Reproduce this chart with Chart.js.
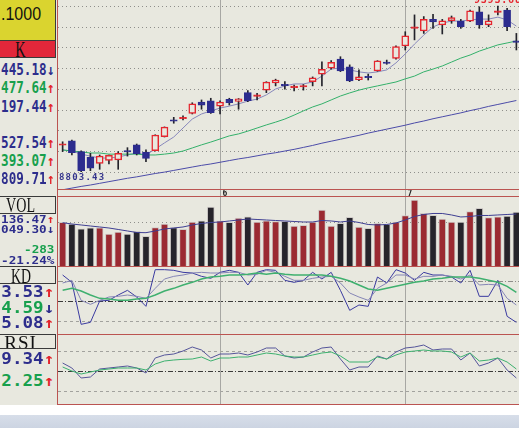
<!DOCTYPE html>
<html>
<head>
<meta charset="utf-8">
<script src="https://cdn.jsdelivr.net/npm/chart.js@4/dist/chart.umd.min.js"></script>
<style>
html, body { margin: 0; padding: 0; width: 519px; height: 428px; overflow: hidden; background: #ffffff; }
#stage { position: absolute; left: 0; top: 0; width: 519px; height: 405px; background: #e8e8df; overflow: hidden; }
canvas { position: absolute; left: 58px; }
.ln { position: absolute; background: #bb5451; }
.box { position: absolute; left: -15px; width: 69px; border: 1px solid #3a3a3a; text-align: center; font-family: "Liberation Serif", serif; color: #111; overflow: hidden; }
.box span { display: inline-block; }
#lp { position: absolute; left: 0; top: 0; width: 55px; height: 405px; }
.val { position: absolute; right: 1px; white-space: nowrap; font-family: "DejaVu Sans Mono", monospace; font-weight: bold; line-height: 1; transform-origin: right center; }
.nv { color: #2d2d8c; } .gn { color: #17a04d; } .ar { color: #e3242b; } .ab { color: #2d2d8c; }
.s15 { font-size: 15px; transform: scaleX(0.84); }
.s11 { font-size: 11px; transform: scaleX(1.15); }
.k15 { font-size: 15px; transform: scaleX(1.17); }
#band { position: absolute; left: 0; top: 415px; width: 519px; height: 13px; background: linear-gradient(#d7dee9, #ccd4e2); }
</style>
</head>
<body>
<div id="stage">
  <canvas id="price" width="463" height="197" style="top:0px"></canvas>
  <canvas id="vol" width="463" height="69" style="top:197px"></canvas>
  <canvas id="kd" width="463" height="67" style="top:267px"></canvas>
  <canvas id="rsi" width="463" height="69" style="top:335px"></canvas>

  <div class="ln" style="left:57px;top:0;width:1px;height:405px"></div>
  <div class="ln" style="left:57px;top:189px;width:462px;height:1px"></div>
  <div class="ln" style="left:57px;top:196px;width:462px;height:1px"></div>
  <div class="ln" style="left:57px;top:266px;width:462px;height:1px"></div>
  <div class="ln" style="left:57px;top:334px;width:462px;height:1px"></div>
  <div class="ln" style="left:57px;top:404px;width:462px;height:1px"></div>

  <div id="lp">
    <div class="box" style="top:-2px;height:41px;background:#dad42f"></div>
    <div style="position:absolute;left:1px;top:5px;font-family:'Liberation Sans',sans-serif;font-size:16px;line-height:16px;color:#111;transform:scaleY(1.17);transform-origin:left top">.1000</div>
    <div class="box" style="top:40px;height:16px;line-height:18px;background:#e2273a;font-size:23px"><span style="transform:scaleX(0.62)">K</span></div>

    <div class="val s15 nv" style="top:63px">445.18<span class="ab">↓</span></div>
    <div class="val s15 gn" style="top:81px">477.64<span class="ar">↑</span></div>
    <div class="val s15 nv" style="top:100px">197.44<span class="ar">↑</span></div>
    <div class="val s15 nv" style="top:136px">527.54<span class="ar">↑</span></div>
    <div class="val s15 gn" style="top:154px">393.07<span class="ar">↑</span></div>
    <div class="val s15 nv" style="top:172px">809.71<span class="ar">↑</span></div>

    <div class="box" style="top:196px;height:16px;line-height:17px;font-size:21px"><span style="transform:scaleX(0.67)">VOL</span></div>
    <div class="val s11 nv" style="top:214px">136.47<span class="ar">↑</span></div>
    <div class="val s11 nv" style="top:224px">049.30<span class="ab">↓</span></div>
    <div class="val s11 gn" style="top:244px">-283</div>
    <div class="val s11 nv" style="top:255px">-21.24%</div>

    <div class="box" style="top:266px;height:16px;line-height:17px;font-size:22px"><span style="transform:scaleX(0.63)">KD</span></div>
    <div class="val k15 nv" style="top:285px">3.53<span class="ar">↑</span></div>
    <div class="val k15 gn" style="top:301px">4.59<span class="ab">↓</span></div>
    <div class="val k15 nv" style="top:316px">5.08<span class="ar">↑</span></div>

    <div class="box" style="top:334px;height:13px;line-height:15px;font-size:19px;letter-spacing:1px">RSI</div>
    <div class="val k15 nv" style="top:352px">9.34<span class="ar">↑</span></div>
    <div class="val k15 gn" style="top:374px">2.25<span class="ar">↑</span></div>
  </div>
</div>
<div id="band"></div>

<script>
// month of every trading day (one entry per candle)
var months = ['5','5','5','5','5','5','5','5','5','5','5','5','5','5','5','5','5',
    '6','6','6','6','6','6','6','6','6','6','6','6','6','6','6','6','6','6','6','6',
    '7','7','7','7','7','7','7','7','7','7','7','7','7'];

var open = [8898,8913,8875,8855,8833,8844,8845,8879,8899,8873,
    8878,8928,8988,8992,9011,9051,9056,9037,9061,9054,
    9085,9072,9094,9120,9115,9103,9105,9124,9151,9172,
    9205,9177,9131,9143,9162,9194,9207,9251,9314,9305,
    9346,9326,9341,9340,9340,9373,9326,9371,9379,9270];
var high = [8910,8916,8878,8869,8863,8863,8875,8889,8902,8881,
    8935,8963,8997,9002,9049,9059,9065,9056,9065,9064,
    9092,9083,9124,9133,9124,9112,9114,9141,9195,9199,
    9213,9184,9166,9151,9199,9201,9252,9302,9362,9356,
    9364,9346,9358,9346,9379,9391,9362,9393.68,9385,9296];
var low = [8875,8863,8803.43,8807,8812,8831,8812,8859,8863,8839,
    8877,8927,8976,8988,9009,9026,9011,9009,9041,9026,
    9053,9059,9085,9109,9097,9091,9094,9109,9109,9169,
    9160,9124,9128,9130,9161,9186,9204,9237,9273,9296,
    9314,9294,9332,9314,9338,9314,9320,9362,9306,9237];
var close = [8903,8871,8807,8816,8859,8862,8869,8874,8868,8851,
    8934,8962,8983,8997,9045,9040,9014,9051,9049,9063,
    9056,9077,9123,9130,9110,9108,9110,9138,9168,9193,
    9162,9127,9141,9138,9198,9189,9249,9287,9319,9346,
    9337,9341,9352,9320,9376,9326,9341,9376,9320,9264];

var ma5 = [8881,8877,8866,8859,8852,8852,8856,8863,8870,8863,
    8884,8906,8927,8959,8991,9009,9020,9030,9037,9045,
    9055,9062,9077,9098,9109,9116,9116,9123,9144,9169,
    9173,9166,9159,9155,9159,9166,9191,9223,9258,9290,
    9319,9333,9340,9340,9344,9347,9347,9354,9344,9322];
var ma20 = [8881,8877,8874,8870,8870,8866,8866,8866,8866,8863,
    8863,8866,8870,8877,8888,8899,8909,8920,8931,8938,
    8948,8959,8970,8980,8991,9005,9020,9034,9045,9059,
    9073,9084,9094,9102,9109,9116,9123,9134,9144,9159,
    9169,9180,9194,9208,9219,9233,9244,9255,9262,9269];
var ma60 = [8739,8745,8751,8756,8762,8768,8774,8780,8785,8791,
    8797,8802,8808,8814,8820,8826,8831,8837,8843,8849,
    8854,8860,8866,8871,8877,8883,8890,8897,8905,8912,
    8919,8926,8933,8941,8948,8955,8962,8969,8977,8984,
    8992,8999,9006,9013,9021,9028,9036,9043,9050,9057];
var priceGrid = [8803.43,8877.21,8950.99,9024.78,9098.56,9172.34,9246.12,9319.90,9393.68];

var vol = [1200,1150,1020,1050,1050,880,935,880,955,815,
    1055,1155,1055,1010,1210,1240,1620,1245,1200,1320,
    1355,1210,1245,1220,1230,1100,1120,1210,1540,1100,
    1175,1340,1070,1035,1175,1145,1210,1385,1815,1450,
    1395,1290,1210,1210,1495,1585,1330,1355,1375,1485];
var volMa = [1190,1155,1128,1100,1073,1045,1004,963,921,916,
    963,1018,1045,1073,1128,1169,1196,1210,1238,1265,
    1293,1279,1265,1251,1238,1224,1210,1210,1251,1238,
    1210,1238,1196,1141,1128,1141,1183,1265,1361,1416,
    1444,1444,1403,1348,1361,1389,1389,1403,1416,1430];

var kdK = [89,78,15,18,50,51,59,66,56,42,
    97,97,96,93,92,87,84,93,96,93,
    74,93,97,96,81,78,81,93,83,93,
    66,36,44,42,86,77,97,92,81,93,
    89,89,86,77,96,57,57,81,27,18];
var kdD = [77,81,51,45,51,56,57,59,57,54,
    69,83,87,89,92,93,92,92,93,93,
    89,90,96,93,87,81,81,84,86,87,
    77,62,56,51,69,77,89,89,83,87,
    87,89,87,83,89,74,75,74,54,44];
var kdJ = [66,69,65,59,54,53,51,51,53,54,
    59,65,69,74,78,83,86,87,89,89,
    90,92,90,92,90,89,89,89,89,87,
    84,80,74,68,66,69,72,75,78,80,
    83,84,86,86,86,84,81,78,72,63];

var rsi6 = [61.5,54,39,40.5,52.5,54,55.5,57,54,46.5,
    69,73.5,75,79.5,85.5,81,69,75,75,76.5,
    73.5,78,84,84,72,69,70.5,78,84,85.5,
    67.5,51,55.5,55.5,72,67.5,78,84,85.5,88.5,
    81,82.5,82.5,66,76.5,57,61.5,69,51,39];
var rsi12 = [55.5,49.5,45,48,51,52.5,54,54,54,51,
    60,64.5,66,67,67.5,70.5,64.5,69,69,70.5,
    70.5,73.5,76.5,75,72,70.5,70.5,73.5,76.5,78,
    72,63,63,63,70.5,67.5,73.5,78,79.5,81,
    79.5,79.5,78,70.5,76.5,64.5,66,69,63,52.5];

var RED = '#e5262f', NAVY = '#2c2c8e', BG = '#e8e8df';

var monthStarts = [];
months.forEach(function (m, i) { if (i > 0 && m !== months[i - 1]) monthStarts.push(i); });

var up = open.map(function (o, i) { return close[i] >= o; });
var doji = open.map(function (o, i) { return Math.abs(close[i] - o) <= 6; });
var bodies = open.map(function (o, i) { return [Math.min(o, close[i]), Math.max(o, close[i])]; });
var wicks = low.map(function (l, i) { return [l, high[i]]; });
var bodyFill = up.map(function (u, i) { return u ? (doji[i] ? RED : BG) : NAVY; });
var bodyEdge = up.map(function (u) { return u ? RED : NAVY; });

// grid levels, month separators and hi/lo labels
var decor = {
    id: 'decor',
    beforeDatasetsDraw: function (chart, args, o) {
        var ctx = chart.ctx, a = chart.chartArea, xs = chart.scales.x, ys = chart.scales.y;
        ctx.save();
        ctx.lineWidth = 1;
        (o.levels || []).forEach(function (l) {
            var py = Math.round(ys.getPixelForValue(l.value)) + 0.5;
            ctx.strokeStyle = l.color;
            ctx.setLineDash(l.dash);
            ctx.beginPath(); ctx.moveTo(a.left, py); ctx.lineTo(a.right, py); ctx.stroke();
        });
        ctx.setLineDash([]);
        monthStarts.forEach(function (i) {
            var px = Math.round(xs.getPixelForValue(i)) + 0.5;
            ctx.strokeStyle = '#a7a7a3';
            ctx.beginPath(); ctx.moveTo(px, 0); ctx.lineTo(px, chart.height); ctx.stroke();
            if (o.monthText) {
                ctx.fillStyle = '#1e1e1e';
                ctx.font = 'bold 8px "DejaVu Sans Mono"';
                ctx.textBaseline = 'alphabetic';
                ctx.fillText(months[i], px + 2, chart.height - 1);
            }
        });
        ctx.restore();
    },
    afterDatasetsDraw: function (chart, args, o) {
        if (!o.extremes) return;
        var ctx = chart.ctx, a = chart.chartArea, xs = chart.scales.x, ys = chart.scales.y;
        var hi = Math.max.apply(null, high), lo = Math.min.apply(null, low);
        ctx.save();
        ctx.font = 'bold 10px "DejaVu Sans Mono"';
        ctx.letterSpacing = '0.8px';
        ctx.fillStyle = RED;
        ctx.textAlign = 'center';
        ctx.textBaseline = 'alphabetic';
        ctx.fillText(hi.toFixed(2), xs.getPixelForValue(high.indexOf(hi)), ys.getPixelForValue(hi) - 2.5);
        ctx.font = 'bold 9px "DejaVu Sans Mono"';
        ctx.letterSpacing = '1.2px';
        ctx.fillStyle = '#34348c';
        ctx.textAlign = 'left';
        ctx.textBaseline = 'top';
        ctx.fillText(lo.toFixed(2), a.left + 1, ys.getPixelForValue(lo) + 1);
        ctx.restore();
    }
};

function panelOptions(min, max, decorOpts, padBottom) {
    return {
        responsive: false,
        animation: false,
        devicePixelRatio: 1,
        layout: { padding: { left: 0, right: 0, top: 0, bottom: padBottom || 0 } },
        plugins: { legend: { display: false }, tooltip: { enabled: false }, decor: decorOpts },
        scales: {
            x: { display: false, offset: true },
            y: { display: false, min: min, max: max }
        }
    };
}

function line(data, color, width) {
    return { type: 'line', data: data, borderColor: color, borderWidth: width || 1,
        pointRadius: 0, tension: 0, order: 3 };
}

var dashDot = [5, 2, 1, 2];

new Chart(document.getElementById('price'), {
    type: 'bar',
    data: {
        labels: months,
        datasets: [
            line(ma60, '#4b4ba8'),
            line(ma20, '#33b06a'),
            line(ma5, '#8787bb'),
            { data: wicks, backgroundColor: '#23232b', barThickness: 1, grouped: false, order: 2 },
            { data: bodies, backgroundColor: bodyFill, borderColor: bodyEdge, borderWidth: 1.5,
              borderSkipped: false, barThickness: 7, grouped: false, order: 1 }
        ]
    },
    options: panelOptions(8741.8, 9415, {
        levels: priceGrid.map(function (v) { return { value: v, color: '#8f8f8b', dash: [1, 3] }; }),
        monthText: true,
        extremes: true
    }, 8),
    plugins: [decor]
});

new Chart(document.getElementById('vol'), {
    type: 'bar',
    data: {
        labels: months,
        datasets: [
            line(volMa, '#3e3e92'),
            { data: vol, backgroundColor: up.map(function (u) { return u ? '#9b2a32' : '#26242b'; }),
              borderColor: '#cfcbc8', borderWidth: 1, barThickness: 7, order: 4 }
        ]
    },
    options: panelOptions(0, 1897, { levels: [{ value: 1200, color: '#8f8f8b', dash: [1, 3] }] }),
    plugins: [decor]
});

new Chart(document.getElementById('kd'), {
    type: 'line',
    data: {
        labels: months,
        datasets: [
            line(kdJ, '#3fb06f', 1.5),
            line(kdD, '#8585b6'),
            line(kdK, '#3a3aa0')
        ]
    },
    options: panelOptions(0.5, 101, { levels: [
        { value: 80, color: '#8e8e8a', dash: dashDot },
        { value: 50, color: '#3a3a3a', dash: dashDot },
        { value: 20, color: '#a2a29e', dash: [3, 3] }
    ] }),
    plugins: [decor]
});

new Chart(document.getElementById('rsi'), {
    type: 'line',
    data: {
        labels: months,
        datasets: [
            line(rsi12, '#3cb06e'),
            line(rsi6, '#55559a')
        ]
    },
    options: panelOptions(0, 103.5, { levels: [
        { value: 80, color: '#a2a29e', dash: [3, 3] },
        { value: 50, color: '#3a3a3a', dash: dashDot },
        { value: 20, color: '#a2a29e', dash: [3, 3] }
    ] }),
    plugins: [decor]
});
</script>
</body>
</html>
